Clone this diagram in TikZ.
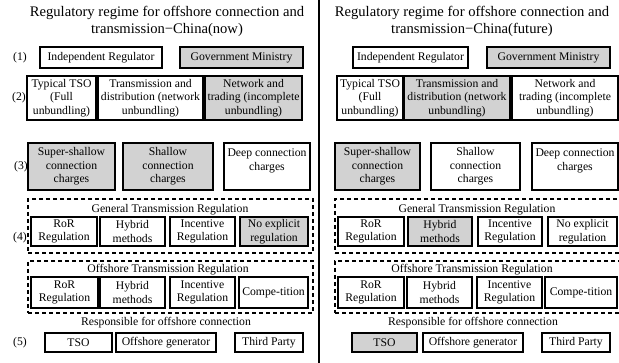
\documentclass[tikz,border=0pt]{standalone}
\usepackage{fontspec}
\setmainfont{Liberation Serif}
\definecolor{boxgray}{RGB}{210,210,210}
\tikzset{
  bx/.style={draw=black, line width=1.3pt, fill=white, inner sep=0pt, align=center, font=\fontsize{11.7}{13.6}\selectfont},
  gbx/.style={bx, fill=boxgray},
  lab/.style={inner sep=0pt, align=center, font=\fontsize{11.7}{13.6}\selectfont},
  ttl/.style={inner sep=0pt, align=center, font=\fontsize{14.6}{17}\selectfont},
  dbox/.style={draw=black, line width=1.3pt, dash pattern=on 4pt off 3pt, inner sep=0pt},
  divider/.style={draw=black, line width=1.5pt},
}
\newcommand\mybox[7]{\node[#2, minimum width={#5-#3}, minimum height={#6-#4}] (#1) at ({(#3+#5)/2},{(#4+#6)/2}) {#7};}
\begin{document}
\begin{tikzpicture}[x=1pt,y=-1pt]
\useasboundingbox (0,0) rectangle (619,363);
% divider
\coordinate (dtop) at (319,0);
\coordinate (dbot) at (319,363);
\draw[divider] (dtop) -- (dbot);

% ================= LEFT PANEL =================
\node[ttl] (ltitle) at (167,21) {Regulatory regime for offshore connection and\\transmission−China(now)};
\node[lab] (l1) at (20,57.5) {(1)};
\node[lab] (l2) at (19,98) {(2)};
\node[lab] (l3) at (21,167) {(3)};
\node[lab] (l4) at (20,238) {(4)};
\node[lab] (l5) at (20,342.5) {(5)};

\mybox{La1}{bx}{40}{47}{162}{68}{Independent Regulator}
\mybox{La2}{gbx}{180}{47}{303}{68}{Government Ministry}

\mybox{Lb1}{bx}{27}{76}{96}{120}{Typical TSO\\(Full\\unbundling)}
\mybox{Lb2}{bx}{98}{76}{203}{120}{Transmission and\\distribution (network\\unbundling)}
\mybox{Lb3}{gbx}{205}{76}{302}{120}{Network and\\trading (incomplete\\unbundling)}

\mybox{Lc1}{gbx}{28}{143}{115}{190}{Super-shallow\\connection\\charges}
\mybox{Lc2}{gbx}{123}{143}{213}{190}{Shallow\\connection\\charges}
\mybox{Lc3}{bx}{224}{143}{310}{190}{Deep connection\\charges\\~}

\mybox{Ldg}{dbox}{28}{199}{313}{253}{}
\node[lab] (Lgt) at (170,210) {General Transmission Regulation};
\mybox{Ld1}{bx}{31}{217}{97}{246}{RoR\\Regulation}
\mybox{Ld2}{bx}{100}{217}{165}{246}{Hybrid\\methods}
\mybox{Ld3}{bx}{170}{217}{235}{246}{Incentive\\Regulation}
\mybox{Ld4}{gbx}{240}{217}{308}{246}{No explicit\\regulation}

\mybox{Leg}{dbox}{28}{261}{313}{313}{}
\node[lab] (Lot) at (168,269.5) {Offshore Transmission Regulation};
\mybox{Le1}{bx}{31}{277}{98}{308}{RoR\\Regulation}
\mybox{Le2}{bx}{100}{277}{165}{308}{Hybrid\\methods}
\mybox{Le3}{bx}{170}{277}{235}{308}{Incentive\\Regulation}
\mybox{Le4}{bx}{239}{277}{308}{308}{Compe-tition}

\node[lab] (Lrt) at (166,323) {Responsible for offshore connection};
\mybox{Lf1}{bx}{45}{333}{112}{352}{TSO}
\mybox{Lf2}{bx}{116}{333}{216}{352}{Offshore generator}
\mybox{Lf3}{bx}{235}{333}{303}{352}{Third Party}

% ================= RIGHT PANEL =================
\node[ttl] (rtitle) at (472,21) {Regulatory regime for offshore connection and\\transmission−China(future)};

\mybox{Ra1}{bx}{353}{47}{468}{68}{Independent Regulator}
\mybox{Ra2}{gbx}{487}{47}{610}{68}{Government Ministry}

\mybox{Rb1}{bx}{337}{76}{403}{120}{Typical TSO\\(Full\\unbundling)}
\mybox{Rb2}{gbx}{404}{76}{510}{120}{Transmission and\\distribution (network\\unbundling)}
\mybox{Rb3}{bx}{512}{76}{618}{120}{Network and\\trading (incomplete\\unbundling)}

\mybox{Rc1}{gbx}{335}{143}{420}{190}{Super-shallow\\connection\\charges}
\mybox{Rc2}{bx}{431}{143}{520}{190}{Shallow\\connection\\charges}
\mybox{Rc3}{bx}{532}{143}{618}{190}{Deep connection\\charges\\~}

\mybox{Rdg}{dbox}{335}{199}{624}{253}{}
\node[lab] (Rgt) at (477,210) {General Transmission Regulation};
\mybox{Rd1}{bx}{338}{217}{404}{246}{RoR\\Regulation}
\mybox{Rd2}{gbx}{408}{217}{472}{246}{Hybrid\\methods}
\mybox{Rd3}{bx}{478}{217}{542}{246}{Incentive\\Regulation}
\mybox{Rd4}{bx}{548}{217}{617}{246}{No explicit\\regulation}

\mybox{Reg}{dbox}{335}{261}{624}{313}{}
\node[lab] (Rot) at (472,269.5) {Offshore Transmission Regulation};
\mybox{Re1}{bx}{338}{277}{404}{308}{RoR\\Regulation}
\mybox{Re2}{bx}{407}{277}{472}{308}{Hybrid\\methods}
\mybox{Re3}{bx}{477}{277}{542}{308}{Incentive\\Regulation}
\mybox{Re4}{bx}{545}{277}{617}{308}{Compe-tition}

\node[lab] (Rrt) at (473,323) {Responsible for offshore connection};
\mybox{Rf1}{gbx}{352}{333}{417}{352}{TSO}
\mybox{Rf2}{bx}{423}{333}{523}{352}{Offshore generator}
\mybox{Rf3}{bx}{542}{333}{610}{352}{Third Party}
\end{tikzpicture}
\end{document}
